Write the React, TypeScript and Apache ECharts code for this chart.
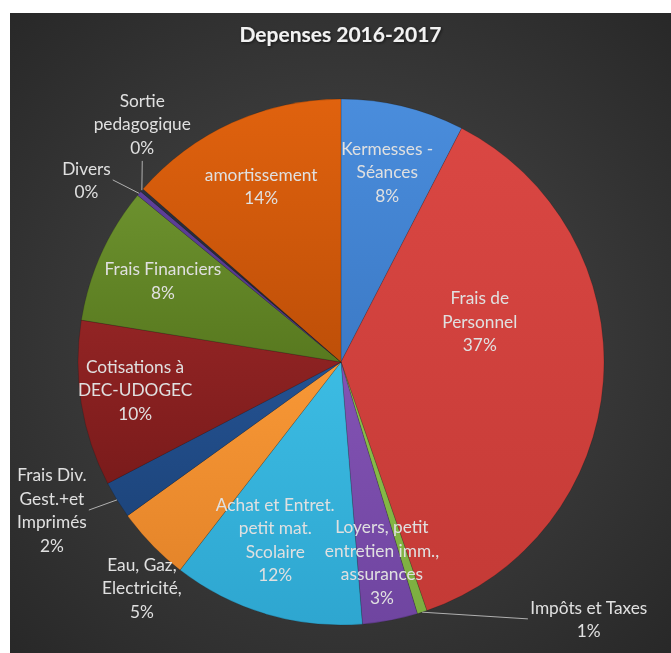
import React, { useEffect, useRef } from "react";
import * as echarts from "echarts";

// ---- data ----
const titleText = "Depenses 2016-2017";
const categories = [
  "Kermesses -\nSéances",
  "Frais de\nPersonnel",
  "Impôts et Taxes",
  "Loyers, petit\nentretien imm.,\nassurances",
  "Achat et Entret.\npetit mat.\nScolaire",
  "Eau, Gaz,\nElectricité,",
  "Frais Div.\nGest.+et\nImprimés",
  "Cotisations à\nDEC-UDOGEC",
  "Frais Financiers",
  "Divers",
  "Sortie\npedagogique",
  "amortissement",
];
const values = [7.6, 37.2, 0.6, 3.4, 11.8, 4.6, 2.3, 10.2, 8.4, 0.3, 0.2, 13.6];

// ---- styles ----
const colorsTop = [
  "#4A8DDC", "#DA4743", "#8EC24C", "#8353B4", "#3CBCE3", "#F89836",
  "#245292", "#922424", "#6C912E", "#5F409A", "#2A3040", "#E0620E",
];
const colorsBottom = [
  "#3C7AC6", "#C43A36", "#7CAE40", "#6F45A0", "#2EA6D0", "#E5852A",
  "#1D457C", "#7A1B1B", "#58791F", "#4E3384", "#20242F", "#BE4F08",
];
// label placement: radius fraction and angular shift (deg) from slice middle
const placement = [
  { r: 0.745, da: 0, line: false },
  { r: 0.55, da: -20.5, line: false },
  { r: 1.357, da: -26, line: true },
  { r: 0.776, da: -0.8, line: false },
  { r: 0.72, da: 3.8, line: false },
  { r: 1.145, da: -4.6, line: false },
  { r: 1.235, da: 4.5, line: true },
  { r: 0.79, da: 1.5, line: false },
  { r: 0.745, da: 0.4, line: false },
  { r: 1.19, da: -4.3, line: true },
  { r: 1.18, da: 9.4, line: true },
  { r: 0.734, da: 0, line: false },
];

const W = 661;
const H = 640;
const CX = 331;
const CY = 349;
const R = 263;

export default function App() {
  const ref = useRef<HTMLDivElement>(null);
  useEffect(() => {
    if (!ref.current) return;
    const chart = echarts.init(ref.current, null, { renderer: "svg" });
    const total = values.reduce((a, b) => a + b, 0);
    const mids: number[] = [];
    let acc = 0;
    values.forEach((v) => {
      mids.push(((acc + v / 2) / total) * 360);
      acc += v;
    });
    const guides: Record<number, number[]> = {};
    const data = values.map((v, i) => ({
      value: v,
      name: categories[i],
      itemStyle: {
        color: {
          type: "linear",
          x: 0, y: 0, x2: 0, y2: 1,
          colorStops: [
            { offset: 0, color: colorsTop[i] },
            { offset: 1, color: colorsBottom[i] },
          ],
        },
      },
    }));
    chart.setOption({
      animation: false,
      backgroundColor: {
        type: "radial",
        x: 0.5, y: 0.5, r: 0.75,
        colorStops: [
          { offset: 0, color: "#4a4a4a" },
          { offset: 1, color: "#262626" },
        ],
      },
      title: {
        text: titleText,
        left: "center",
        top: 5,
        textStyle: {
          color: "#f2f2f2",
          fontFamily: "Lato",
          fontWeight: "bold",
          fontSize: 21,
          textShadowColor: "rgba(0,0,0,0.6)",
          textShadowBlur: 3,
          textShadowOffsetX: 1,
          textShadowOffsetY: 1,
        },
      },
      series: [
        {
          type: "pie",
          center: [CX, CY],
          radius: R,
          startAngle: 90,
          clockwise: true,
          avoidLabelOverlap: false,
          itemStyle: { borderColor: "rgba(0,0,0,0.2)", borderWidth: 0.8 },
          label: {
            show: true,
            position: "inside",
            color: "#e0e0e0",
            fontFamily: "Lato",
            fontSize: 17.3,
            lineHeight: 23.5,
            formatter: (p: any) => `${p.name}\n${Math.round(p.percent)}%`,
          },
          labelLine: { show: false },
          labelLayout: (p: any) => {
            const i = p.dataIndex;
            const pl = placement[i];
            const a = ((mids[i] + pl.da) * Math.PI) / 180;
            const x = CX + pl.r * R * Math.sin(a);
            const y = CY - pl.r * R * Math.cos(a);
            if (pl.line) {
              const m = (mids[i] * Math.PI) / 180;
              const sx = CX + R * Math.sin(m);
              const sy = CY - R * Math.cos(m);
              const hw = p.labelRect.width / 2 + 2;
              const hh = p.labelRect.height / 2 + 2;
              const cands = [
                [x - hw, y], [x + hw, y], [x, y - hh], [x, y + hh],
              ];
              let best = cands[0];
              let bd = Infinity;
              cands.forEach((c) => {
                const d = Math.hypot(c[0] - sx, c[1] - sy);
                if (d < bd) { bd = d; best = c; }
              });
              guides[i] = [sx, sy, best[0], best[1]];
            }
            return { x, y, align: "center", verticalAlign: "middle" };
          },
          data,
        },
      ],
    });
    const lines = Object.keys(guides).map((k) => {
      const g = guides[Number(k)];
      return {
        type: "line",
        z: 100,
        shape: { x1: g[0], y1: g[1], x2: g[2], y2: g[3] },
        style: { stroke: "#b0b0b0", lineWidth: 1 },
        silent: true,
      };
    });
    chart.setOption({ graphic: lines });
    return () => chart.dispose();
  }, []);
  return (
    <div
      ref={ref}
      style={{ position: "fixed", left: 10, top: 13, width: W, height: H }}
    />
  );
}
